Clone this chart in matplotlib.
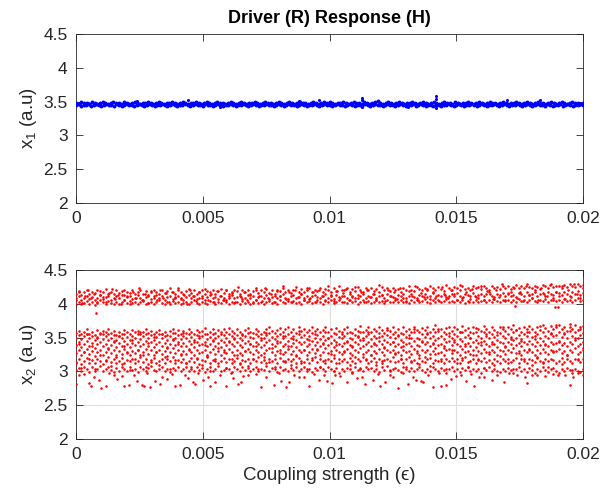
import numpy as np
import matplotlib
matplotlib.use("Agg")
import matplotlib.pyplot as plt

plt.rcParams['font.family'] = ['Liberation Sans', 'DejaVu Sans']
plt.rcParams['mathtext.fontset'] = 'custom'
plt.rcParams['mathtext.rm'] = 'Liberation Sans'
plt.rcParams['mathtext.it'] = 'Liberation Sans:italic'
plt.rcParams['mathtext.default'] = 'regular'

# ---------------- data (values in hundredths of a.u.) ----------------
x_ticks = [0, 0.005, 0.01, 0.015, 0.02]
x_tick_labels = ["0", "0.005", "0.01", "0.015", "0.02"]
y_ticks = [2, 2.5, 3, 3.5, 4, 4.5]
y_tick_labels = ["2", "2.5", "3", "3.5", "4", "4.5"]
eps_max = 0.02

# driver x1 (blue), two sampled layers across the coupling sweep
x1_layer_a = [
345,346,344,345,345,346,344,345,346,345, 344,345,346,345,345,344,346,345,344,345,
346,345,345,344,345,346,345,344,345,346, 345,344,345,345,346,345,344,345,346,345,
344,345,345,346,345,344,345,346,345,345, 344,346,345,345,344,345,346,345,344,345,
345,346,345,344,345,345,346,345,344,345, 346,345,344,345,345,346,345,345,344,345,
346,345,344,345,346,345,345,344,345,346, 345,344,345,345,346,345,344,345,346,345,
345,344,345,346,345,345,344,345,346,345, 344,345,345,343,346,345,344,345,346,345,
345,344,345,346,345,345,344,345,346,345, 344,345,345,346,344,345,346,345,344,345,
345,343,346,345,344,345,345,346,345,344, 345,346,345,344,345,345,346,345,344,345,
346,345,344,345,345,346,345,344,345,346, 345,344,345,345,346,345,344,345,346,345,
344,345,346,345,345,344,346,345,344,345, 345,346,344,345,346,345,344,345,345,346,
345]
x1_layer_b = [
348,347,349,348,348,347,349,348,347,348, 349,348,347,348,349,348,348,347,349,348,
347,348,349,348,347,348,348,349,348,347, 348,349,348,347,348,348,349,348,347,348,
349,348,347,348,348,349,348,347,348,349, 348,347,348,349,348,348,347,348,349,348,
347,348,349,348,347,348,348,349,348,347, 348,349,348,348,347,348,349,348,347,348,
349,348,347,348,349,348,348,347,348,349, 348,347,348,350,348,349,348,347,348,348,
349,348,347,348,349,348,348,347,349,348, 347,348,349,351,348,347,348,349,348,347,
348,349,348,347,348,348,349,348,347,348, 349,348,347,348,349,348,347,348,349,348,
348,347,349,348,347,348,348,349,348,347, 348,349,348,347,348,349,348,348,347,348,
349,348,347,348,348,349,348,347,348,349, 348,347,348,349,348,348,347,348,349,348,
347,348,349,348,347,348,349,348,348,347, 348]
# isolated excursions of x1 (x in units of 1e-4)
x1_spike_x = [113, 113, 113, 142, 142, 142, 142, 96, 88, 44, 57, 170, 183, 24, 131]
x1_spike_y = [355, 342, 353, 358, 343, 354, 341, 352, 351, 352, 342, 352, 352, 351, 342]

# response x2 (red): upper branch layers
x2_upper_1 = [
400,402,399,401,404,400,403,398,401,405, 402,400,404,401,399,403,400,402,405,401,
399,401,403,400,402,404,399,401,403,400, 402,405,401,399,402,400,404,401,403,400,
401,403,400,402,405,401,399,403,401,400, 404,402,400,403,401,405,402,400,403,401,
402,400,404,401,403,400,402,405,401,403, 400,402,404,401,403,400,405,402,401,404,
402,404,401,403,400,405,402,404,401,403, 406,402,400,404,402,405,401,403,406,402,
403,401,405,402,404,400,403,406,402,404, 401,403,405,402,404,401,406,403,402,405,
403,405,402,404,401,406,403,405,402,404, 407,403,401,405,403,406,402,404,407,403,
404,402,406,403,405,401,404,407,403,405, 402,404,406,403,405,402,407,404,403,406,
404,406,403,405,402,407,404,406,403,405, 408,404,402,406,404,407,403,405,408,404,
405,403,407,404,406,402,405,408,404,406]
x2_upper_2 = [
408,411,406,409,412,407,410,405,409,413, 407,410,412,406,409,411,408,413,406,410,
411,407,409,413,408,406,410,412,407,409, 413,408,411,406,410,412,407,409,411,408,
406,410,413,408,411,407,409,412,406,410, 413,408,410,407,412,409,406,411,413,408,
410,412,407,409,413,408,411,406,410,412, 409,413,407,410,412,408,411,414,409,407,
411,413,408,410,414,409,412,407,411,413, 410,408,412,414,409,411,407,413,410,412,
412,409,414,410,408,413,411,415,409,412, 410,414,408,411,413,409,415,412,410,408,
413,411,415,409,412,414,410,408,413,411, 415,410,412,416,409,413,411,414,410,412,
414,411,416,412,409,415,413,411,416,410, 413,415,411,414,417,412,410,415,413,416,
412,415,417,413,410,416,414,412,417,413, 415,418,412,414,416,411,417,415,413,418,
416,413,418,414,412,417,415,419,413,416]
x2_upper_3 = [
415,419,413,417,421,414,418,416,420,413, 417,422,415,418,414,420,416,419,413,418,
416,420,414,418,421,415,419,413,417,420, 418,414,421,416,419,424,417,415,420,418,
414,419,422,416,420,415,418,421,414,419, 417,421,415,419,422,416,420,414,418,421,
419,415,421,417,420,414,419,423,416,420, 418,422,416,420,415,421,419,424,417,421,
416,421,425,418,422,417,420,424,418,421, 419,423,417,422,420,418,423,419,426,421,
420,424,418,422,419,425,421,418,423,420, 424,419,422,418,425,421,423,419,424,420,
422,418,424,420,426,421,419,425,422,420, 424,421,426,423,420,425,422,419,428,424,
421,425,423,420,426,422,424,421,427,423, 425,422,426,424,421,427,423,425,422,426,
424,427,422,425,428,423,426,424,429,425, 423,427,425,422,428,426,424,429,425,427,
426,424,428,425,430,427,425,429,426,428]
x2_upper_4 = [
405,418,401,412,421,408,415,403,419,410, 402,416,422,407,413,400,420,411,404,417,
409,423,406,414,401,419,412,405,421,408, 416,403,418,410,424,407,413,400,420,411,
404,417,409,422,406,415,402,419,412,405, 421,408,416,403,425,410,418,406,413,401,
420,411,404,423,409,415,402,419,412,426, 407,417,403,421,410,414,405,424,408,418,
402,420,411,406,427,413,404,419,409,416, 422,405,412,425,408,418,403,421,410,415,
406,428,413,404,420,411,417,407,424,409, 403,419,412,426,405,416,410,422,407,418,
411,404,425,413,408,420,415,406,428,410, 417,403,422,412,409,426,405,419,414,407,
421,410,429,406,416,412,424,408,418,404, 427,413,409,420,406,423,415,411,428,405,
418,412,426,407,421,410,430,415,408,424]

# response x2 (red): main branch layers
x2_main_1 = [
302,305,300,307,303,299,306,301,304,308, 300,303,306,302,299,305,301,307,304,300,
306,302,304,299,307,303,301,305,308,302, 300,304,306,301,303,299,305,302,307,300,
303,306,301,304,300,307,302,305,299,303, 306,301,304,308,300,302,305,303,299,306,
304,300,307,302,305,301,303,306,300,304, 302,308,301,305,303,299,306,302,304,300,
305,302,307,300,304,306,301,303,299,305, 302,307,304,300,306,303,301,305,298,304,
301,305,303,299,306,302,304,300,307,303, 305,301,304,299,306,302,308,300,303,305,
302,299,306,303,301,305,300,304,307,302, 299,304,301,306,303,300,305,302,298,304,
306,301,303,299,305,302,307,300,304,301, 303,298,305,302,306,300,304,301,299,303,
300,305,302,298,304,306,301,303,299,305, 302,297,304,300,306,302,299,303,305,301,
298,303,300,305,302,297,304,301,299,303]
x2_main_2 = [
314,318,311,316,320,313,317,312,319,315, 311,317,321,314,318,312,316,320,313,317,
315,319,312,316,321,314,318,311,317,320, 313,316,319,312,318,315,321,313,317,314,
319,312,316,320,314,318,311,317,315,321, 313,317,319,312,316,320,314,318,313,316,
320,313,317,315,319,312,318,316,321,314, 317,312,319,315,318,313,320,316,314,319,
315,318,312,320,316,314,319,313,317,321, 314,318,315,312,319,316,320,313,318,315,
318,314,320,316,312,319,315,321,317,313, 316,320,314,318,312,317,319,315,321,314,
316,319,313,318,321,315,317,312,320,316, 314,318,320,313,317,315,319,312,318,316,
320,315,318,313,317,321,314,316,319,312, 318,315,320,314,317,313,319,316,312,318,
315,319,314,317,320,313,318,316,312,319, 317,314,320,316,313,318,315,319,317,313,
316,320,314,318,315,313,319,317,314,318]
x2_main_3 = [
327,331,324,329,333,326,330,323,328,332, 325,329,334,327,331,324,330,326,333,328,
324,330,327,332,325,329,333,326,331,324, 328,332,326,330,323,329,334,327,331,325,
330,326,333,328,324,331,327,329,332,325, 328,333,326,330,324,331,327,333,329,325,
331,327,324,330,333,328,326,332,329,324, 327,331,334,328,325,330,332,326,329,333,
326,330,324,332,328,331,325,329,333,327, 331,325,329,334,327,330,324,332,328,326,
330,333,327,325,331,328,334,326,329,332, 325,330,327,333,329,324,331,328,332,326,
329,324,332,328,330,326,333,327,325,331, 328,332,326,330,334,327,329,325,331,333,
327,331,329,325,333,328,330,326,332,324, 330,327,333,329,326,331,328,324,332,330,
326,332,328,334,327,330,325,331,329,333, 328,325,331,327,333,329,326,332,328,330,
333,327,330,325,331,328,334,326,329,332]
x2_main_4 = [
339,343,336,341,345,338,342,335,340,344, 337,341,346,339,343,336,342,338,345,340,
336,342,339,344,337,341,345,338,343,336, 340,344,338,342,335,341,346,339,343,337,
342,338,345,340,336,343,339,341,344,337, 340,345,338,342,336,343,339,345,341,337,
343,339,336,342,345,340,338,344,341,336, 339,343,346,340,337,342,344,338,341,345,
338,342,336,344,340,343,337,341,345,339, 343,337,341,346,339,342,336,344,340,338,
342,345,339,337,343,340,346,338,341,344, 337,342,339,345,341,336,343,340,344,338,
341,336,344,340,342,338,345,339,337,343, 340,344,338,342,346,339,341,337,343,345,
339,343,341,337,345,340,342,338,344,336, 342,339,345,341,338,343,340,336,344,342,
338,344,340,346,339,342,337,343,341,345, 340,337,343,339,345,341,338,344,340,342,
345,339,342,337,343,340,346,338,341,344]
x2_main_5 = [
350,354,348,352,356,349,353,347,351,355, 348,352,356,350,354,347,353,349,355,351,
347,353,350,355,348,352,356,349,354,347, 351,355,349,353,346,352,357,350,354,348,
353,349,356,351,347,354,350,352,355,348, 351,356,349,353,347,354,350,356,352,348,
354,350,347,353,357,351,349,355,352,347, 350,354,357,351,348,353,355,349,352,356,
349,353,347,355,351,354,348,352,357,350, 354,348,352,358,350,353,347,355,351,349,
353,357,350,348,354,351,358,349,352,356, 348,353,350,357,352,347,354,351,356,349,
352,347,356,351,354,349,358,350,348,355, 351,356,349,353,359,350,352,348,355,357,
350,355,352,348,358,351,354,349,357,347, 353,350,358,352,349,355,351,347,357,353,
349,356,351,359,350,354,348,355,352,358, 351,348,356,350,359,353,349,357,352,354,
358,351,355,349,360,352,358,350,354,357]
x2_main_6 = [
357,360,355,359,362,356,358,354,361,357, 355,359,362,357,360,354,358,356,361,359,
356,361,358,360,355,359,362,357,360,355, 358,361,356,359,354,360,363,357,361,356,
360,357,363,359,355,361,358,360,364,356, 359,363,357,361,355,362,358,364,360,357,
362,358,356,361,364,359,357,363,360,356, 358,362,365,360,357,361,364,358,362,366,
359,363,357,365,360,362,358,361,366,360, 363,358,361,366,359,362,357,364,360,358,
362,366,359,357,363,360,367,358,361,365, 358,362,360,366,361,357,364,360,365,359,
362,357,365,360,363,359,366,361,358,364, 361,365,359,363,368,360,362,358,364,366,
360,365,362,358,367,361,364,359,366,358, 363,360,367,362,359,365,361,358,366,363,
360,366,362,368,361,364,359,365,362,367, 362,359,366,361,369,364,360,367,362,365,
368,362,365,360,370,363,368,361,365,367]
x2_main_7 = [
312,341,305,328,356,319,337,303,349,324, 360,316,333,308,345,322,353,311,338,327,
302,347,318,331,358,325,306,342,314,351, 329,309,355,321,336,304,348,317,340,326,
357,313,332,307,344,320,352,310,339,323, 301,346,315,334,359,328,305,343,319,350,
325,311,354,330,308,341,318,337,303,349, 322,357,314,335,306,345,327,352,316,338,
309,348,323,360,312,331,304,346,320,355, 333,307,342,317,350,326,301,339,313,356,
329,344,310,336,321,353,305,347,318,358, 324,340,309,351,315,334,361,302,343,327,
354,319,337,306,349,314,362,330,311,345, 322,357,308,340,326,363,316,335,303,352,
331,346,312,359,320,338,307,350,325,364, 317,343,305,356,329,341,310,354,323,366,
336,313,348,304,361,327,345,318,358,332, 309,352,321,367,314,339,306,355,330,368,
344,311,357,324,365,302,349,319,362,335]

# sparse x2 excursions (x in units of 1e-4)
x2_out_x = [0, 1, 6, 9, 10, 12, 15, 16, 19, 21, 24, 26, 29, 31, 33, 36, 39, 41, 44, 47,
            50, 53, 55, 59, 62, 65, 68, 73, 78, 81, 84, 88, 92, 96, 99, 102, 107, 111, 114, 117,
            122, 125, 127, 131, 134, 137, 141, 144, 146, 148, 152, 154, 159, 164, 169, 174, 182, 190, 196,
            8, 173, 189, 190]
x2_out_y = [281, 294, 279, 288, 276, 278, 294, 289, 279, 280, 286, 280, 277, 286, 281, 289, 279, 280, 290, 282,
            287, 279, 284, 278, 290, 284, 294, 277, 280, 286, 284, 291, 279, 288, 286, 294, 284, 290, 281, 288,
            285, 291, 276, 281, 288, 284, 277, 279, 280, 289, 294, 286, 291, 288, 284, 294, 294, 294, 291,
            387, 397, 395, 396]
x2_edge_x = [3, 7, 13, 18, 23, 28, 34, 38, 43, 48, 52, 57, 61, 66, 71, 75, 80, 86, 90, 94,
             98, 104, 109, 113, 119, 124, 129, 133, 139, 143, 150, 156, 161, 166, 171, 177, 180, 185, 188, 193,
             198, 200, 5, 27, 46, 64, 83, 101, 120, 136, 157, 178, 195]
x2_edge_y = [296, 292, 297, 293, 295, 298, 291, 296, 294, 297, 292, 295, 298, 293, 296, 291, 297, 294, 292, 296,
             295, 293, 297, 291, 296, 294, 298, 292, 295, 297, 293, 296, 291, 294, 297, 292, 295, 293, 296, 294,
             297, 295, 283, 278, 285, 282, 277, 283, 279, 286, 278, 283, 280]

# ---------------- drawing ----------------
AX_COLOR = '#262626'


def sweep(layer):
    return np.linspace(0, eps_max, len(layer))


def style(ax, grid):
    ax.set_xlim(0, eps_max)
    ax.set_ylim(2, 4.5)
    ax.set_xticks(x_ticks)
    ax.set_xticklabels(x_tick_labels)
    ax.set_yticks(y_ticks)
    ax.set_yticklabels(y_tick_labels)
    ax.tick_params(direction='in', top=True, right=True, length=5, width=0.6,
                   color=AX_COLOR, labelcolor=AX_COLOR, labelsize=12.5, pad=6)
    for s in ax.spines.values():
        s.set_color(AX_COLOR)
        s.set_linewidth(0.6)
    if grid:
        ax.grid(True, color='#dedede', linewidth=0.8)
        ax.set_axisbelow(True)


fig = plt.figure(figsize=(6.11, 4.95), dpi=100)
W, H = 611, 495
ax1 = fig.add_axes([76 / W, 1 - 203 / H, 507 / W, 169 / H])
ax2 = fig.add_axes([76 / W, 1 - 439 / H, 507 / W, 169 / H])

blue = (0, 0, 1)
red = (1, 0, 0)
for layer in (x1_layer_a, x1_layer_b):
    ax1.scatter(sweep(layer), np.array(layer) / 100, s=8, marker='o', color=blue,
                linewidths=0, zorder=3)
ax1.scatter(np.array(x1_spike_x) * 1e-4, np.array(x1_spike_y) / 100, s=5, color=blue,
            linewidths=0, zorder=3)
style(ax1, grid=False)
ax1.set_ylabel('x$_1$ (a.u)', fontsize=13.5, color=AX_COLOR, labelpad=3)
ax1.set_title('Driver (R) Response (H)', fontsize=13, fontweight='bold',
              color='black', pad=8)

for layer in (x2_upper_1, x2_upper_2, x2_upper_3, x2_upper_4, x2_main_1, x2_main_2,
              x2_main_3, x2_main_4, x2_main_5, x2_main_6, x2_main_7):
    ax2.scatter(sweep(layer), np.array(layer) / 100, s=3.4, marker='o', color=red,
                linewidths=0, zorder=3)
for xs, ys in ((x2_out_x, x2_out_y), (x2_edge_x, x2_edge_y)):
    n = min(len(xs), len(ys))
    ax2.scatter(np.array(xs[:n]) * 1e-4, np.array(ys[:n]) / 100, s=3.4,
                color=red, linewidths=0, zorder=3)
style(ax2, grid=True)
ax2.set_ylabel('x$_2$ (a.u)', fontsize=13.5, color=AX_COLOR, labelpad=3)
ax2.set_xlabel('Coupling strength (\u03f5)', fontsize=13.5, color=AX_COLOR, labelpad=3)

fig.savefig('out.png', dpi=100)
